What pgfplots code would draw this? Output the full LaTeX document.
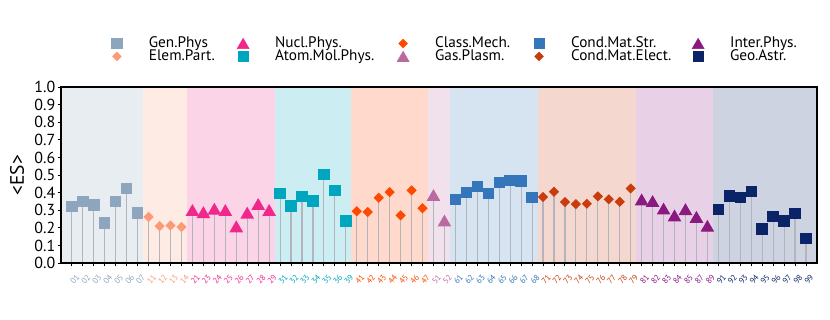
\documentclass[border=0pt]{standalone}
\usepackage{fontspec}
\setmainfont{PT Sans}
\IfFontExistsTF{Liberation Sans Narrow}
  {\newfontfamily\narrowfont{Liberation Sans Narrow}}
  {\newfontfamily\narrowfont{PT Sans}}
\usepackage{pgfplots}
\pgfplotsset{compat=1.18}

\definecolor{cgen}{HTML}{8DA5BD}
\definecolor{celem}{HTML}{FB9A77}
\definecolor{cnucl}{HTML}{F0288C}
\definecolor{catom}{HTML}{00A5BF}
\definecolor{cclass}{HTML}{FF4800}
\definecolor{cgas}{HTML}{BB6A9F}
\definecolor{ccstr}{HTML}{3476B9}
\definecolor{ccele}{HTML}{C93C0D}
\definecolor{cinter}{HTML}{8B1A80}
\definecolor{cgeo}{HTML}{0B2468}
\definecolor{stem}{HTML}{B2B6BC}

\pgfplotsset{
  sq/.style={ycomb, draw=stem, line width=0.8pt, mark=square*, mark size=3.7pt,
    mark options={draw=#1, fill=#1, solid}, forget plot},
  dm/.style={ycomb, draw=stem, line width=0.8pt, mark=square*, mark size=2.2pt,
    mark options={draw=#1, fill=#1, solid, rotate=45}, forget plot},
  tr/.style={ycomb, draw=stem, line width=0.8pt, mark=triangle*, mark size=4.9pt,
    mark options={draw=#1, fill=#1, solid, yshift=-1.2pt}, forget plot},
  band/.style={draw=none, fill=#1, fill opacity=0.2, forget plot},
}

\begin{document}
\begin{tikzpicture}
\path[use as bounding box] (-43.9pt,-41.0pt) rectangle (553.7pt,189.4pt);
\begin{axis}[
  at={(0,0)}, anchor=south west,
  scale only axis,
  width=544.3pt, height=126.7pt,
  xmin=-1, xmax=68, ymin=0, ymax=1,
  axis on top,
  axis line style={black, line width=0.9pt},
  tick pos=left,
  tick align=outside,
  major tick length=2.4pt,
  tick style={black, line width=0.7pt},
  ytick={0,0.1,...,1.0},
  yticklabel style={/pgf/number format/fixed, /pgf/number format/fixed zerofill,
    /pgf/number format/precision=1, /pgf/number format/assume math mode=true,
    font=\fontsize{11.5}{12}\selectfont, inner sep=1.5pt},
  ylabel={<ES>},
  ylabel style={font=\fontsize{14}{15}\selectfont, at={(axis description cs:-0.058,0.5)}, anchor=center},
  xtick={0,...,67},
  xticklabels={
    \textcolor{cgen}{01},\textcolor{cgen}{02},\textcolor{cgen}{03},\textcolor{cgen}{04},\textcolor{cgen}{05},\textcolor{cgen}{06},\textcolor{cgen}{07},
    \textcolor{celem}{11},\textcolor{celem}{12},\textcolor{celem}{13},\textcolor{celem}{14},
    \textcolor{cnucl}{21},\textcolor{cnucl}{23},\textcolor{cnucl}{24},\textcolor{cnucl}{25},\textcolor{cnucl}{26},\textcolor{cnucl}{27},\textcolor{cnucl}{28},\textcolor{cnucl}{29},
    \textcolor{catom}{31},\textcolor{catom}{32},\textcolor{catom}{33},\textcolor{catom}{34},\textcolor{catom}{35},\textcolor{catom}{36},\textcolor{catom}{39},
    \textcolor{cclass}{41},\textcolor{cclass}{42},\textcolor{cclass}{43},\textcolor{cclass}{44},\textcolor{cclass}{45},\textcolor{cclass}{46},\textcolor{cclass}{47},
    \textcolor{cgas}{51},\textcolor{cgas}{52},
    \textcolor{ccstr}{61},\textcolor{ccstr}{62},\textcolor{ccstr}{63},\textcolor{ccstr}{64},\textcolor{ccstr}{65},\textcolor{ccstr}{66},\textcolor{ccstr}{67},\textcolor{ccstr}{68},
    \textcolor{ccele}{71},\textcolor{ccele}{72},\textcolor{ccele}{73},\textcolor{ccele}{74},\textcolor{ccele}{75},\textcolor{ccele}{76},\textcolor{ccele}{77},\textcolor{ccele}{78},\textcolor{ccele}{79},
    \textcolor{cinter}{81},\textcolor{cinter}{82},\textcolor{cinter}{83},\textcolor{cinter}{84},\textcolor{cinter}{85},\textcolor{cinter}{87},\textcolor{cinter}{89},
    \textcolor{cgeo}{91},\textcolor{cgeo}{92},\textcolor{cgeo}{93},\textcolor{cgeo}{94},\textcolor{cgeo}{95},\textcolor{cgeo}{96},\textcolor{cgeo}{97},\textcolor{cgeo}{98},\textcolor{cgeo}{99}},
  xticklabel style={font=\fontsize{6}{7}\selectfont, xshift=2.5pt, yshift=-4.5pt, rotate=50, anchor=north east, inner sep=0.5pt},
  legend columns=5,
  legend image code/.code={\path[draw=none, fill=none] (-8.5pt,0pt) -- (8.5pt,0pt); \draw[#1] plot coordinates {(0pt,0pt)};},
  legend style={draw=none, fill=none, font=\narrowfont\fontsize{11}{12}\selectfont,
    at={(axis description cs:0.058,1.286)}, anchor=north west,
    inner sep=0pt, row sep=0pt, nodes={inner sep=0pt},
    /tikz/every odd column/.append style={column sep=14.5pt},
    /tikz/every even column/.append style={column sep=0pt, text height=7.8pt, text depth=2.3pt, align=left},
    /tikz/column 2/.style={text width=59.4pt},
    /tikz/column 4/.style={text width=83.7pt},
    /tikz/column 6/.style={text width=66.4pt},
    /tikz/column 8/.style={text width=83.0pt},
    /tikz/column 10/.style={text width=60pt}},
]
% background bands
\addplot[band=cgen]   coordinates {(-1,1) (6.5,1)} \closedcycle;
\addplot[band=celem]  coordinates {(6.5,1) (10.5,1)} \closedcycle;
\addplot[band=cnucl]  coordinates {(10.5,1) (18.5,1)} \closedcycle;
\addplot[band=catom]  coordinates {(18.5,1) (25.5,1)} \closedcycle;
\addplot[band=cclass] coordinates {(25.5,1) (32.5,1)} \closedcycle;
\addplot[band=cgas]   coordinates {(32.5,1) (34.5,1)} \closedcycle;
\addplot[band=ccstr]  coordinates {(34.5,1) (42.5,1)} \closedcycle;
\addplot[band=ccele]  coordinates {(42.5,1) (51.5,1)} \closedcycle;
\addplot[band=cinter] coordinates {(51.5,1) (58.5,1)} \closedcycle;
\addplot[band=cgeo]   coordinates {(58.5,1) (68,1)} \closedcycle;

% stems and markers
\addplot[sq=cgen] coordinates {(0,0.321) (1,0.351) (2,0.330) (3,0.228) (4,0.351) (5,0.424) (6,0.284)};
\addplot[dm=celem] coordinates {(7,0.262) (8,0.210) (9,0.213) (10,0.205)};
\addplot[tr=cnucl] coordinates {(11,0.300) (12,0.288) (13,0.307) (14,0.300) (15,0.207) (16,0.285) (17,0.334) (18,0.300)};
\addplot[sq=catom] coordinates {(19,0.396) (20,0.324) (21,0.377) (22,0.352) (23,0.504) (24,0.411) (25,0.240)};
\addplot[dm=cclass] coordinates {(26,0.294) (27,0.290) (28,0.371) (29,0.403) (30,0.271) (31,0.413) (32,0.311)};
\addplot[tr=cgas] coordinates {(33,0.385) (34,0.240)};
\addplot[sq=ccstr] coordinates {(35,0.362) (36,0.402) (37,0.434) (38,0.394) (39,0.458) (40,0.468) (41,0.466) (42,0.373)};
\addplot[dm=ccele] coordinates {(43,0.375) (44,0.405) (45,0.347) (46,0.335) (47,0.337) (48,0.379) (49,0.362) (50,0.348) (51,0.424)};
\addplot[tr=cinter] coordinates {(52,0.360) (53,0.351) (54,0.308) (55,0.269) (56,0.305) (57,0.261) (58,0.210)};
\addplot[sq=cgeo] coordinates {(59,0.305) (60,0.381) (61,0.373) (62,0.405) (63,0.193) (64,0.263) (65,0.239) (66,0.280) (67,0.140)};

% legend (row by row)
\addlegendimage{mark=square*, mark size=3.7pt, mark options={draw=cgen, fill=cgen}}
\addlegendentry{Gen.Phys}
\addlegendimage{mark=triangle*, mark size=4.9pt, mark options={draw=cnucl, fill=cnucl, yshift=-1.2pt}}
\addlegendentry{Nucl.Phys.}
\addlegendimage{mark=square*, mark size=2.2pt, mark options={draw=cclass, fill=cclass, rotate=45}}
\addlegendentry{Class.Mech.}
\addlegendimage{mark=square*, mark size=3.7pt, mark options={draw=ccstr, fill=ccstr}}
\addlegendentry{Cond.Mat.Str.}
\addlegendimage{mark=triangle*, mark size=4.9pt, mark options={draw=cinter, fill=cinter, yshift=-1.2pt}}
\addlegendentry{Inter.Phys.}
\addlegendimage{mark=square*, mark size=2.2pt, mark options={draw=celem, fill=celem, rotate=45}}
\addlegendentry{Elem.Part.}
\addlegendimage{mark=square*, mark size=3.7pt, mark options={draw=catom, fill=catom}}
\addlegendentry{Atom.Mol.Phys.}
\addlegendimage{mark=triangle*, mark size=4.9pt, mark options={draw=cgas, fill=cgas, yshift=-1.2pt}}
\addlegendentry{Gas.Plasm.}
\addlegendimage{mark=square*, mark size=2.2pt, mark options={draw=ccele, fill=ccele, rotate=45}}
\addlegendentry{Cond.Mat.Elect.}
\addlegendimage{mark=square*, mark size=3.7pt, mark options={draw=cgeo, fill=cgeo}}
\addlegendentry{Geo.Astr.}
\end{axis}
\end{tikzpicture}
\end{document}
